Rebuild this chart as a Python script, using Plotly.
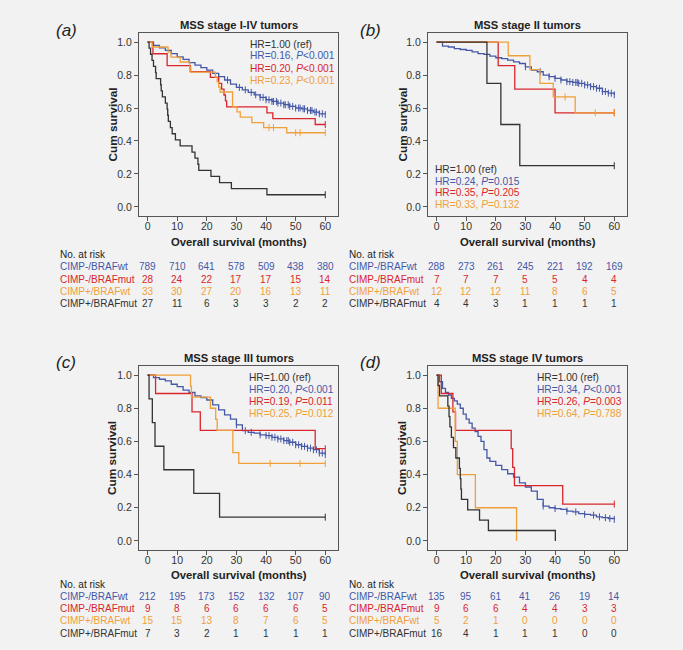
import numpy as np
import plotly.graph_objects as go

# ---------------- data ----------------
groups = ["CIMP-/BRAFwt", "CIMP-/BRAFmut", "CIMP+/BRAFwt", "CIMP+/BRAFmut"]
risk_times = [0, 10, 20, 30, 40, 50, 60]
titles = ["MSS stage I-IV tumors", "MSS stage II tumors", "MSS stage III tumors", "MSS stage IV tumors"]
panel_labels = ["(a)", "(b)", "(c)", "(d)"]

# Panel (a) stage I-IV
a_wt_t = [0, 2, 4, 6, 8, 10, 12, 14, 16, 18, 20, 22, 24, 26, 28, 30, 32, 34, 36, 38, 40, 42, 44, 46, 48, 50, 52, 54, 56, 58, 60]
a_wt_s = [1.0, 0.98, 0.965, 0.95, 0.93, 0.91, 0.895, 0.875, 0.86, 0.845, 0.83, 0.81, 0.79, 0.77, 0.745, 0.725, 0.71, 0.695, 0.68, 0.665, 0.65, 0.64, 0.63, 0.62, 0.61, 0.60, 0.595, 0.585, 0.575, 0.565, 0.56]
a_wt_c = [24, 27, 31, 33, 35, 36.5, 38, 39, 40, 41, 42, 42.5, 43.5, 44, 45, 46, 46.5, 47.5, 48, 49, 50, 51, 51.5, 52.5, 53, 54, 55, 55.5, 56.5, 57, 58, 59, 60]
a_m_t = [0, 1.8, 6.6, 14.4, 21.2, 24.0, 25.0, 25.8, 26.3, 26.7, 40.3, 42.3, 56.6, 60]
a_m_s = [1.0, 0.929, 0.857, 0.821, 0.786, 0.75, 0.714, 0.679, 0.643, 0.607, 0.571, 0.536, 0.50, 0.50]
a_m_c = [60]
a_pw_t = [0, 1.5, 6.9, 7.9, 11, 14.2, 14.6, 22.9, 23.5, 24.0, 24.5, 28.7, 30.2, 31.3, 35.2, 39.2, 47.0, 60]
a_pw_s = [1.0, 0.970, 0.939, 0.909, 0.879, 0.848, 0.818, 0.788, 0.758, 0.727, 0.697, 0.606, 0.576, 0.545, 0.511, 0.481, 0.45, 0.45]
a_pw_c = [41, 42.5, 50, 51.5, 60]
a_pm_t = [0, 0.5, 1.0, 1.5, 2.0, 2.7, 2.9, 4.4, 4.6, 5.0, 6.0, 6.6, 6.8, 7.0, 7.7, 8.3, 9.4, 11, 15, 16, 17, 17.3, 21.4, 24.3, 28.3, 40.3, 60]
a_pm_s = [1.0, 0.963, 0.926, 0.889, 0.852, 0.815, 0.778, 0.741, 0.704, 0.667, 0.630, 0.593, 0.556, 0.519, 0.481, 0.444, 0.407, 0.370, 0.333, 0.296, 0.259, 0.222, 0.185, 0.148, 0.111, 0.074, 0.074]
a_pm_c = [60]

# Panel (b) stage II
b_wt_t = [0, 2, 4, 6, 8, 10, 12, 14, 16, 18, 20, 22, 24, 26, 28, 30, 32, 34, 36, 38, 40, 42, 44, 46, 48, 50, 52, 54, 56, 58, 60]
b_wt_s = [1.0, 0.975, 0.97, 0.96, 0.955, 0.95, 0.94, 0.93, 0.925, 0.915, 0.905, 0.90, 0.89, 0.88, 0.87, 0.85, 0.83, 0.82, 0.80, 0.79, 0.78, 0.77, 0.76, 0.755, 0.75, 0.74, 0.73, 0.72, 0.70, 0.69, 0.68]
b_wt_c = [30, 35, 38, 40, 42, 44, 45, 46, 47, 47.5, 48, 49, 50, 51, 52, 53, 54, 55, 56, 57, 58, 59, 60]
b_m_t = [0, 20.8, 26.4, 40.0, 60]
b_m_s = [1.0, 0.857, 0.714, 0.571, 0.571]
b_m_c = [60]
b_pw_t = [0, 24.2, 31.5, 34.9, 39.4, 46.8, 60]
b_pw_s = [1.0, 0.917, 0.833, 0.75, 0.667, 0.571, 0.571]
b_pw_c = [43.4, 53.6, 60]
b_pm_t = [0, 17.0, 21.7, 28.1, 60]
b_pm_s = [1.0, 0.75, 0.5, 0.25, 0.25]
b_pm_c = [60]

# Panel (c) stage III
c_wt_t = [0, 2, 4, 6, 8, 10, 12, 14, 16, 18, 20, 22, 24, 26, 28, 30, 32, 34, 36, 38, 40, 42, 44, 46, 48, 50, 52, 54, 56, 58, 60]
c_wt_s = [1.0, 0.985, 0.975, 0.965, 0.945, 0.93, 0.91, 0.895, 0.875, 0.865, 0.85, 0.82, 0.79, 0.76, 0.735, 0.70, 0.665, 0.655, 0.65, 0.64, 0.635, 0.625, 0.615, 0.605, 0.595, 0.58, 0.57, 0.56, 0.55, 0.53, 0.52]
c_wt_c = [30, 33, 35, 38, 40, 41, 42, 43, 44, 45, 46, 47, 47.5, 48, 49, 50, 51, 52, 53, 54, 55, 56, 57, 58, 59, 60]
c_m_t = [0, 2.7, 15, 17.8, 56.6, 60]
c_m_s = [1.0, 0.889, 0.778, 0.667, 0.556, 0.556]
c_m_c = [60]
c_pw_t = [0, 14.5, 14.8, 21.2, 23.0, 23.5, 28.8, 30.8, 60]
c_pw_s = [1.0, 0.933, 0.867, 0.80, 0.733, 0.667, 0.533, 0.467, 0.467]
c_pw_c = [41.4, 51.5, 60]
c_pm_t = [0, 0.5, 1.6, 2.5, 5.5, 15.6, 24.3, 60]
c_pm_s = [1.0, 0.857, 0.714, 0.571, 0.429, 0.286, 0.143, 0.143]
c_pm_c = [60]

# Panel (d) stage IV
d_wt_t = [0, 1, 2, 3, 4, 5, 6, 7, 8, 9, 10, 11, 12, 13, 14, 15, 16, 17, 18, 20, 22, 24, 26, 28, 30, 32, 34, 36, 38, 40, 42, 44, 46, 48, 50, 52, 54, 56, 58, 60]
d_wt_s = [1.0, 0.96, 0.92, 0.895, 0.88, 0.86, 0.845, 0.825, 0.80, 0.765, 0.735, 0.71, 0.68, 0.66, 0.63, 0.60, 0.55, 0.50, 0.48, 0.455, 0.43, 0.405, 0.385, 0.35, 0.325, 0.30, 0.25, 0.21, 0.20, 0.195, 0.19, 0.18, 0.175, 0.165, 0.16, 0.155, 0.145, 0.14, 0.135, 0.13]
d_wt_c = [36, 40, 44, 47, 50, 53, 55, 57, 58.5, 60]
d_m_t = [0, 1.6, 5.5, 6.4, 25.2, 25.7, 26.3, 42.6, 60]
d_m_s = [1.0, 0.889, 0.778, 0.667, 0.556, 0.444, 0.333, 0.222, 0.222]
d_m_c = [60]
d_pw_t = [0, 0.5, 6.3, 7.0, 13.1, 27.0]
d_pw_s = [1.0, 0.8, 0.6, 0.4, 0.2, 0.0]
d_pw_c = []
d_pm_t = [0, 0.5, 1.0, 3.8, 4.2, 4.5, 5.0, 5.7, 6.5, 7.7, 8.0, 8.2, 8.4, 10.5, 14.5, 17.5, 40.1]
d_pm_s = [1.0, 0.9375, 0.875, 0.8125, 0.75, 0.6875, 0.625, 0.5625, 0.5, 0.4375, 0.375, 0.3125, 0.25, 0.1875, 0.125, 0.0625, 0.0]
d_pm_c = []

# Numbers at risk
a_risk = [[789, 710, 641, 578, 509, 438, 380], [28, 24, 22, 17, 17, 15, 14], [33, 30, 27, 20, 16, 13, 11], [27, 11, 6, 3, 3, 2, 2]]
b_risk = [[288, 273, 261, 245, 221, 192, 169], [7, 7, 7, 5, 5, 4, 4], [12, 12, 12, 11, 8, 6, 5], [4, 4, 3, 1, 1, 1, 1]]
c_risk = [[212, 195, 173, 152, 132, 107, 90], [9, 8, 6, 6, 6, 6, 5], [15, 15, 13, 8, 7, 6, 5], [7, 3, 2, 1, 1, 1, 1]]
d_risk = [[135, 95, 61, 41, 26, 19, 14], [9, 6, 6, 4, 4, 3, 3], [5, 2, 1, 0, 0, 0, 0], [16, 4, 1, 1, 1, 0, 0]]

# Hazard ratios
a_hr = ["HR=1.00 (ref)", "HR=0.16, <i>P</i>&lt;0.001", "HR=0.20, <i>P</i>&lt;0.001", "HR=0.23, <i>P</i>&lt;0.001"]
b_hr = ["HR=1.00 (ref)", "HR=0.24, <i>P</i>=0.015", "HR=0.35, <i>P</i>=0.205", "HR=0.33, <i>P</i>=0.132"]
c_hr = ["HR=1.00 (ref)", "HR=0.20, <i>P</i>&lt;0.001", "HR=0.19, <i>P</i>=0.011", "HR=0.25, <i>P</i>=0.012"]
d_hr = ["HR=1.00 (ref)", "HR=0.34, <i>P</i>&lt;0.001", "HR=0.26, <i>P</i>=0.003", "HR=0.64, <i>P</i>=0.788"]

# ---------------- styling ----------------
W, H = 683, 650
BG = "#f2f2f2"
FONT = "Liberation Sans, Arial, sans-serif"
C_BLUE, C_RED, C_ORANGE, C_BLACK = "#4558a8", "#d8262c", "#f0a03a", "#333333"
grp_colors = [C_BLUE, C_RED, C_ORANGE, C_BLACK]
hr_colors = [C_BLACK, C_BLUE, C_RED, C_ORANGE]


def px(x):
    return x / W


def py(y):
    return 1 - y / H


curves = [
    [(a_wt_t, a_wt_s, a_wt_c), (a_m_t, a_m_s, a_m_c), (a_pw_t, a_pw_s, a_pw_c), (a_pm_t, a_pm_s, a_pm_c)],
    [(b_wt_t, b_wt_s, b_wt_c), (b_m_t, b_m_s, b_m_c), (b_pw_t, b_pw_s, b_pw_c), (b_pm_t, b_pm_s, b_pm_c)],
    [(c_wt_t, c_wt_s, c_wt_c), (c_m_t, c_m_s, c_m_c), (c_pw_t, c_pw_s, c_pw_c), (c_pm_t, c_pm_s, c_pm_c)],
    [(d_wt_t, d_wt_s, d_wt_c), (d_m_t, d_m_s, d_m_c), (d_pw_t, d_pw_s, d_pw_c), (d_pm_t, d_pm_s, d_pm_c)],
]
risks = [a_risk, b_risk, c_risk, d_risk]
hrs = [a_hr, b_hr, c_hr, d_hr]

# pixel layout: (left, right, top, bottom)
boxes = [(139, 338, 33, 216), (428, 627, 33, 216), (139, 338, 366, 550), (428, 627, 366, 550)]
label_left = [58, 347, 58, 347]
ytitle_x = [112, 402, 112, 402]
panel_lab_pos = [(66, 30), (370, 30), (66, 362), (370, 362)]
title_y = [25, 25, 358, 358]
xtitle_y = [241.7, 241.7, 575, 575]
risk_rows_y = [[254.3, 266.7, 279.3, 291.7, 304], [254.3, 266.7, 279.3, 291.7, 304],
               [584.3, 596.7, 608.5, 620.8, 633], [584.3, 596.7, 608.5, 620.8, 633]]
hr_pos = [(248, [44, 56, 68.7, 81]), (432.7, [169, 181, 193, 204.5]),
          (246.7, [377.3, 389.3, 401, 413.7]), (535, [377.3, 389.3, 401, 413.7])]

fig = go.Figure()
annotations = []
layout_axes = {}

for p in range(4):
    xa = "x" if p == 0 else f"x{p+1}"
    ya = "y" if p == 0 else f"y{p+1}"
    xkey = "xaxis" if p == 0 else f"xaxis{p+1}"
    ykey = "yaxis" if p == 0 else f"yaxis{p+1}"
    l, r, t, b = boxes[p]
    for g in range(4):
        tt, ss, cc = curves[p][g]
        fig.add_trace(go.Scatter(x=tt, y=ss, mode="lines", line=dict(color=grp_colors[g], width=1.3, shape="hv"),
                                 xaxis=xa, yaxis=ya, showlegend=False, hoverinfo="skip"))
        if len(cc):
            ta = np.array(tt, dtype=float)
            sa = np.array(ss, dtype=float)
            idx = np.searchsorted(ta, np.array(cc, dtype=float), side="right") - 1
            fig.add_trace(go.Scatter(x=cc, y=sa[idx], mode="markers",
                                     marker=dict(symbol="line-ns-open", size=5, color=grp_colors[g],
                                                 line=dict(color=grp_colors[g], width=1)),
                                     xaxis=xa, yaxis=ya, showlegend=False, hoverinfo="skip"))
    layout_axes[xkey] = dict(domain=[px(l), px(r)], range=[-2.9, 64.3], anchor=ya, tickvals=risk_times,
                             showline=True, mirror=True, linecolor="#555555", linewidth=1, ticks="outside",
                             ticklen=4, tickcolor="#555555", showgrid=False, zeroline=False,
                             ticklabelstandoff=-4,
                             tickfont=dict(size=10.5, color="#333333", family=FONT))
    layout_axes[ykey] = dict(domain=[py(b), py(t)], range=[-0.055, 1.055], anchor=xa,
                             tickvals=[0, 0.2, 0.4, 0.6, 0.8, 1.0], tickformat=".1f",
                             showline=True, mirror=True, linecolor="#555555", linewidth=1, ticks="outside",
                             ticklen=4, tickcolor="#555555", showgrid=False, zeroline=False,
                             tickfont=dict(size=10.5, color="#333333", family=FONT))
    cx = px((l + r) / 2)
    annotations.append(dict(text=f"<b>{titles[p]}</b>", x=cx, y=py(title_y[p]), xref="paper", yref="paper",
                            showarrow=False, xanchor="center", yanchor="middle",
                            font=dict(size=11.2, color="#222222", family=FONT)))
    annotations.append(dict(text="<b>Overall survival (months)</b>", x=cx, y=py(xtitle_y[p]), xref="paper",
                            yref="paper", showarrow=False, xanchor="center", yanchor="middle",
                            font=dict(size=11.3, color="#222222", family=FONT)))
    annotations.append(dict(text="<b>Cum survival</b>", x=px(ytitle_x[p]), y=py((t + b) / 2), xref="paper",
                            yref="paper", showarrow=False, textangle=-90, xanchor="center", yanchor="middle",
                            font=dict(size=11.8, color="#222222", family=FONT)))
    lx, ly = panel_lab_pos[p]
    annotations.append(dict(text=f"<i>{panel_labels[p]}</i>", x=px(lx), y=py(ly), xref="paper", yref="paper",
                            showarrow=False, xanchor="center", yanchor="middle",
                            font=dict(size=17, color="#222222", family=FONT)))
    hx, hys = hr_pos[p]
    for k in range(4):
        annotations.append(dict(text=hrs[p][k], x=px(hx), y=py(hys[k]), xref="paper", yref="paper",
                                showarrow=False, xanchor="left", yanchor="middle",
                                font=dict(size=10.2, color=hr_colors[k], family=FONT)))
    rys = risk_rows_y[p]
    annotations.append(dict(text="No. at risk", x=px(label_left[p]), y=py(rys[0]), xref="paper", yref="paper",
                            showarrow=False, xanchor="left", yanchor="middle",
                            font=dict(size=10, color="#222222", family=FONT)))
    for g in range(4):
        annotations.append(dict(text=groups[g], x=px(label_left[p]), y=py(rys[g + 1]), xref="paper",
                                yref="paper", showarrow=False, xanchor="left", yanchor="middle",
                                font=dict(size=10, color=grp_colors[g], family=FONT)))
        for j, tv in enumerate(risk_times):
            annotations.append(dict(text=str(risks[p][g][j]), x=tv, y=py(rys[g + 1]), xref=xa, yref="paper",
                                    showarrow=False, xanchor="center", yanchor="middle",
                                    font=dict(size=10, color=grp_colors[g], family=FONT)))

fig.update_layout(width=W, height=H, margin=dict(l=0, r=0, t=0, b=0), paper_bgcolor=BG, plot_bgcolor=BG,
                  showlegend=False, annotations=annotations, font=dict(family=FONT), **layout_axes)

fig.write_html("out.html", config={"displayModeBar": False},
               post_script="document.body.style.margin='0';document.body.style.background='%s';" % BG)
